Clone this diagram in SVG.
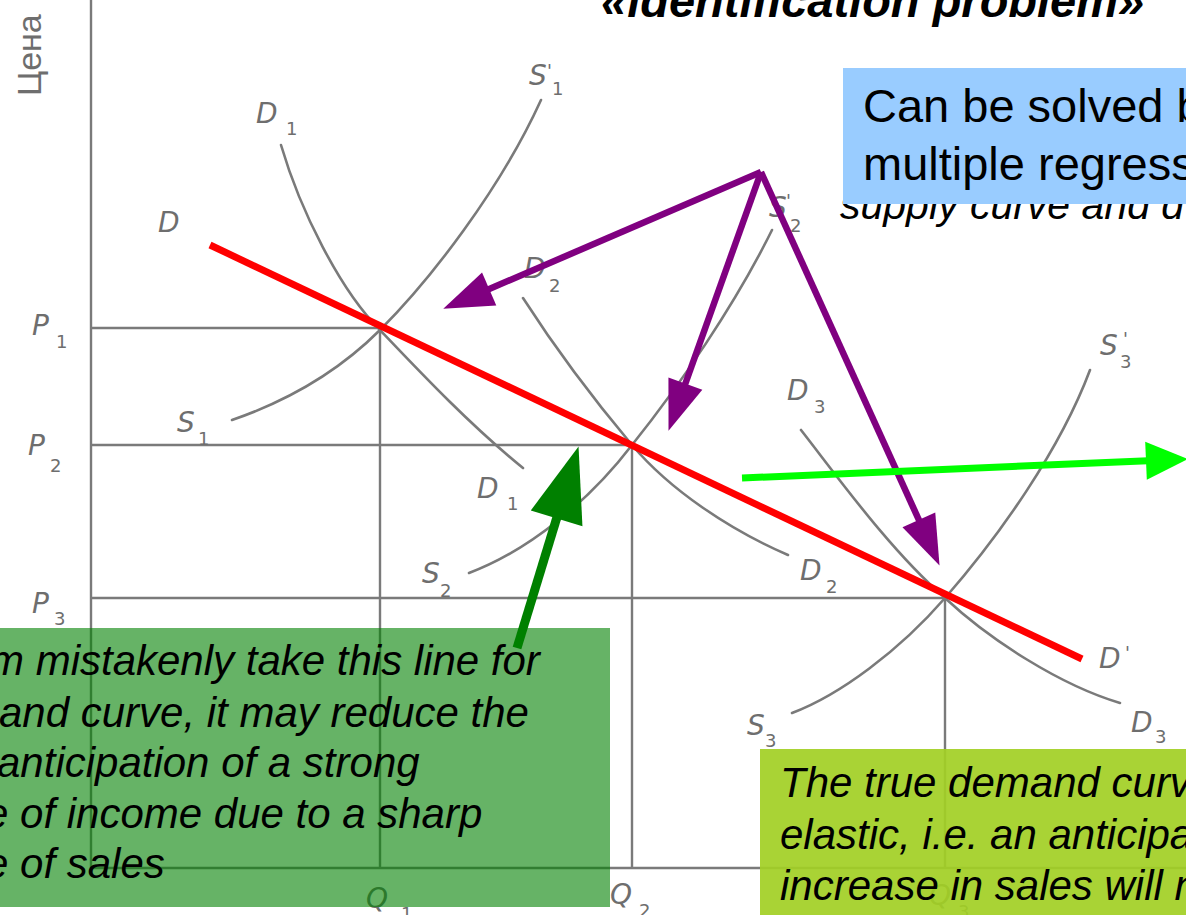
<svg xmlns="http://www.w3.org/2000/svg" width="1186" height="915" viewBox="0 0 1186 915">
<defs>
<style>
.grid{fill:none;stroke:#7a7a7a;stroke-width:2.4}
.curve{fill:none;stroke:#7a7a7a;stroke-width:2.6;stroke-linecap:round}
.lbl{font-family:"DejaVu Sans","Liberation Sans",sans-serif;font-style:oblique;fill:#6e6e6e;font-size:28px}
.sub{font-family:"DejaVu Sans","Liberation Sans",sans-serif;fill:#6e6e6e;font-size:18px}
.note{font-family:"Liberation Sans",Arial,sans-serif;font-style:italic;fill:#000;font-size:42px}
.blue{font-family:"Liberation Sans",Arial,sans-serif;fill:#000;font-size:47px}
.purple{fill:none;stroke:#800080;stroke-width:6.5}
</style>
<marker id="mPurple" markerUnits="userSpaceOnUse" markerWidth="50" markerHeight="36" refX="10" refY="18" orient="auto" overflow="visible"><path d="M0,0 L50,18 L0,36 z" fill="#800080"/></marker>
<marker id="mDark" markerUnits="userSpaceOnUse" markerWidth="75" markerHeight="54" refX="15" refY="27" orient="auto" overflow="visible"><path d="M0,0 L75,27 L0,54 z" fill="#008000"/></marker>
<marker id="mLime" markerUnits="userSpaceOnUse" markerWidth="42" markerHeight="38" refX="8" refY="19" orient="auto" overflow="visible"><path d="M0,0 L42,19 L0,38 z" fill="#00ff00"/></marker>
</defs>
<rect width="1186" height="915" fill="#fff"/>

<g id="chart">
<g id="axes">
<path class="grid" d="M91,0 V868 M91,868 H1186 M91,328 H381 M91,445 H632 M91,598 H945 M380,328 V868 M632,445 V868 M945,598 V868"/>
</g>
<g id="curves">
<path class="curve" d="M281,145 C300,210 340,290 380,330 C420,372 470,425 523,468"/>
<path class="curve" d="M232,420 C290,400 340,370 380,330 C430,280 500,190 541,100"/>
<path class="curve" d="M523,298 C550,340 590,395 632,445 C670,490 730,530 788,555"/>
<path class="curve" d="M469,573 C530,550 590,500 632,445 C680,385 735,305 772,230"/>
<path class="curve" d="M801,430 C840,480 890,550 945,598 C990,640 1060,685 1120,703"/>
<path class="curve" d="M792,713 C840,695 900,650 945,598 C1000,535 1060,450 1090,370"/>
</g>
<g id="labels">
<text transform="translate(41,96) rotate(-90)" style="font-family:'Liberation Sans',Arial,sans-serif;font-size:34px;fill:#6e6e6e">Цена</text>
<text class="lbl" x="158" y="232">D</text>
<text class="lbl" x="256" y="123">D</text><text class="sub" x="286" y="135">1</text>
<text class="lbl" x="529" y="85">S</text><text class="sub" x="547" y="77">'</text><text class="sub" x="552" y="95">1</text>
<text class="lbl" x="32" y="335">P</text><text class="sub" x="56" y="348">1</text>
<text class="lbl" x="177" y="432">S</text><text class="sub" x="198" y="445">1</text>
<text class="lbl" x="28" y="455">P</text><text class="sub" x="50" y="472">2</text>
<text class="lbl" x="477" y="498">D</text><text class="sub" x="507" y="510">1</text>
<text class="lbl" x="422" y="583">S</text><text class="sub" x="440" y="597">2</text>
<text class="lbl" x="32" y="613">P</text><text class="sub" x="54" y="625">3</text>
<text class="lbl" x="524" y="278">D</text><text class="sub" x="549" y="292">2</text>
<text class="lbl" x="769" y="217">S</text><text class="sub" x="786" y="207">'</text><text class="sub" x="790" y="232">2</text>
<text class="lbl" x="787" y="400">D</text><text class="sub" x="814" y="413">3</text>
<text class="lbl" x="800" y="580">D</text><text class="sub" x="826" y="593">2</text>
<text class="lbl" x="1100" y="355">S</text><text class="sub" x="1123" y="345">'</text><text class="sub" x="1120" y="368">3</text>
<text class="lbl" x="1099" y="668">D</text><text class="sub" x="1125" y="659">'</text>
<text class="lbl" x="747" y="735">S</text><text class="sub" x="765" y="747">3</text>
<text class="lbl" x="1131" y="732">D</text><text class="sub" x="1155" y="743">3</text>
<text class="lbl" x="366" y="908">Q</text><text class="sub" x="401" y="920">1</text>
<text class="lbl" x="610" y="904">Q</text><text class="sub" x="639" y="917">2</text>
<text class="lbl" x="929" y="905">Q</text><text class="sub" x="958" y="918">3</text>
</g>
<line id="false-demand" x1="210" y1="245" x2="1082" y2="659" stroke="#ff0000" stroke-width="7"/>
</g>

<g id="note-blue">
<text class="note" x="840" y="219" style="font-size:41px">supply curve and d</text>
<rect x="843" y="68" width="343" height="136" fill="#99ccff"/>
<text class="blue" x="863" y="122">Can be solved b</text>
<text class="blue" x="863" y="180">multiple regress</text>
</g>

<g id="connectors">
<path class="purple" d="M761,172 L480,293" marker-end="url(#mPurple)"/>
<path class="purple" d="M761,172 L682,393" marker-end="url(#mPurple)"/>
<path class="purple" d="M761,172 L923,529" marker-end="url(#mPurple)"/>
<path d="M742,478 L1154,460.5" fill="none" stroke="#00ff00" stroke-width="7" marker-end="url(#mLime)"/>
</g>

<g id="note-green">
<rect x="0" y="628" width="610" height="279" fill="#008000" fill-opacity="0.6"/>
<text class="note" x="-11" y="675">m mistakenly take this line for</text>
<text class="note" x="-1" y="727">and curve, it may reduce the</text>
<text class="note" x="-3" y="777">anticipation of a strong</text>
<text class="note" x="-15" y="828">e of income due to a sharp</text>
<text class="note" x="-15" y="878">e of sales</text>
</g>

<g id="connector-green">
<path d="M517,648 L561,504" fill="none" stroke="#008000" stroke-width="9" marker-end="url(#mDark)"/>
</g>

<g id="note-yellow">
<rect x="760" y="749" width="426" height="166" fill="#a2cf24" fill-opacity="0.92"/>
<text class="note" x="780" y="797">The true demand curv</text>
<text class="note" x="780" y="849">elastic, i.e. an anticipa</text>
<text class="note" x="780" y="900">increase in sales will n</text>
</g>

<g id="title">
<text x="601" y="17" style="font-family:'Liberation Sans',Arial,sans-serif;font-weight:bold;font-style:italic;font-size:47px;fill:#000">«identification problem»</text>
</g>
</svg>
